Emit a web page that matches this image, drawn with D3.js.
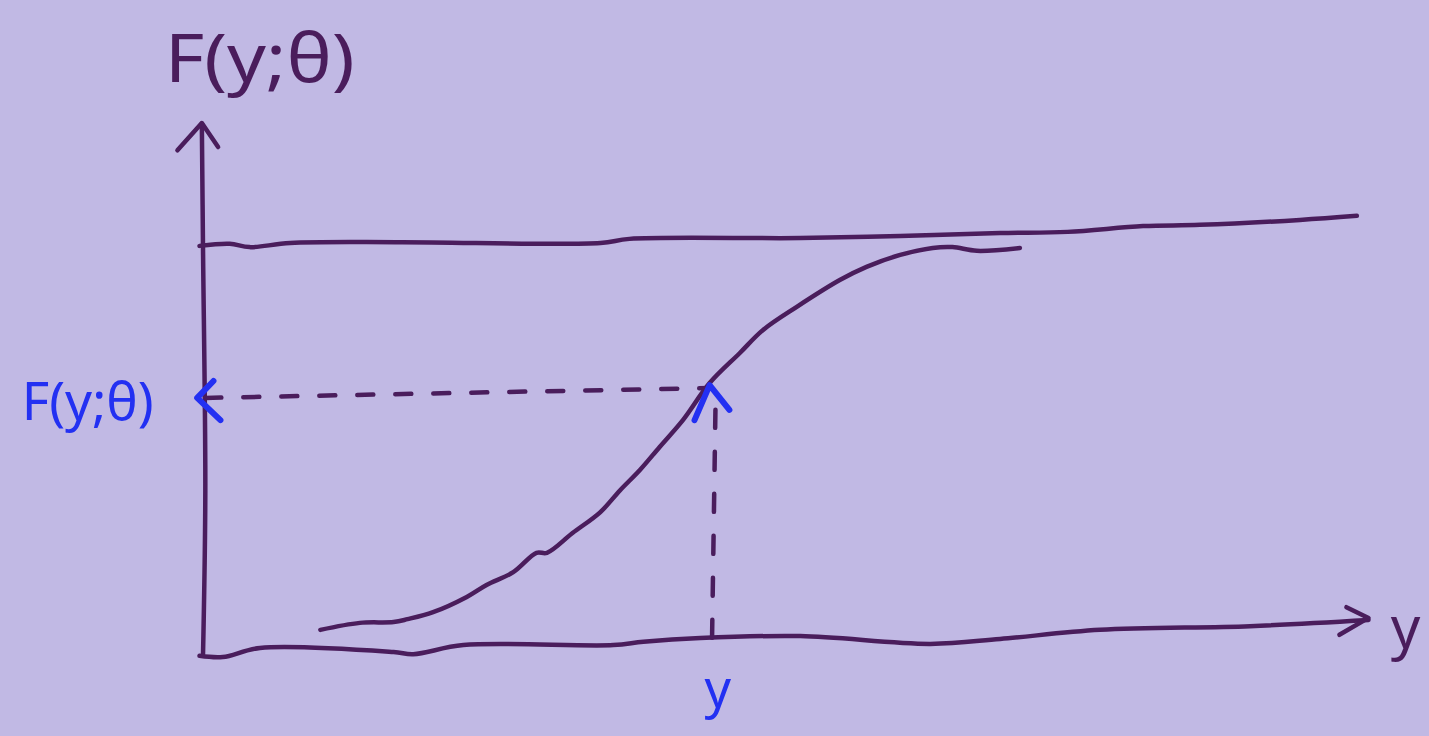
<!DOCTYPE html>
<html>
<head>
<meta charset="utf-8">
<script src="https://cdn.jsdelivr.net/npm/d3@7"></script>
<style>
  html, body { margin: 0; padding: 0; background: #c1b9e4; }
  svg { display: block; }
</style>
</head>
<body>
<svg id="chart" width="1429" height="736"></svg>
<script>
// Sketch of a cumulative distribution function F(y; θ).
// Horizontal unit: y (0–10); vertical unit: F (0–1).

// The S-shaped CDF curve: [y, F]
const cdfCurve = [
  [1.01, 0.061], [1.35, 0.078], [1.64, 0.080], [1.76, 0.087], [1.98, 0.104],
  [2.27, 0.141], [2.44, 0.170], [2.67, 0.201], [2.87, 0.248], [2.96, 0.248],
  [3.18, 0.296], [3.42, 0.347], [3.59, 0.400], [3.76, 0.449], [3.93, 0.505],
  [4.13, 0.570], [4.36, 0.660], [4.62, 0.733], [4.82, 0.789], [5.11, 0.845],
  [5.48, 0.910], [5.71, 0.942], [6.00, 0.971], [6.28, 0.988], [6.45, 0.990],
  [6.66, 0.981], [7.03, 0.988]
];

// Hand-drawn upper bound line (F = 1)
const upperLine = [
  [-0.03, 0.993], [0.23, 0.998], [0.40, 0.990], [0.75, 1.000], [1.70, 1.002],
  [3.42, 1.000], [3.67, 1.010], [5.14, 1.012], [6.00, 1.017], [6.86, 1.024],
  [7.44, 1.027], [8.09, 1.041], [8.58, 1.044], [9.44, 1.056], [9.93, 1.066]
];

// Hand-drawn horizontal axis
const xAxisLine = [
  [-0.03, -0.002], [0.17, -0.005], [0.49, 0.017], [1.64, 0.007], [1.81, 0.002],
  [2.24, 0.024], [3.53, 0.024], [3.79, 0.032], [4.28, 0.041], [5.14, 0.046],
  [6.26, 0.027], [6.86, 0.039], [7.72, 0.061], [9.01, 0.070], [10.03, 0.085]
];
const xArrowHead = [[9.84, 0.116], [10.03, 0.090], [9.78, 0.049]];

// Hand-drawn vertical axis
const yAxisLine = [[0.0, -0.002], [0.02, 0.40], [0.0, 0.99], [-0.01, 1.29]];
const yArrowHead = [[-0.22, 1.225], [-0.01, 1.291], [0.13, 1.233]];

// Reading off the curve at a chosen y
const dashH = [[0.02, 0.624], [4.35, 0.648]];
const dashV = [[4.41, 0.595], [4.38, 0.024]];
const blueLeftHead = [[0.09, 0.665], [-0.05, 0.624], [0.15, 0.570]];
const blueUpHead = [[4.23, 0.570], [4.36, 0.655], [4.53, 0.595]];

// Text labels: [text, y, F]
const titleLabel = ["F(y;θ)", -0.33, 1.39];
const valueLabel = ["F(y;θ)", -1.56, 0.570];
const yTickLabel = ["y", 4.43, -0.125];
const axisName = ["y", 10.35, 0.017];

const ink = "#4a1d5c";
const blue = "#2330f2";

const svg = d3.select("#chart");
svg.append("rect").attr("width", 1429).attr("height", 736).attr("fill", "#c1b9e4");

const x = d3.scaleLinear().domain([0, 10]).range([203, 1365]);
const y = d3.scaleLinear().domain([0, 1]).range([655, 243]);

const smooth = d3.line().x(d => x(d[0])).y(d => y(d[1])).curve(d3.curveCatmullRom.alpha(0.5));
const straight = d3.line().x(d => x(d[0])).y(d => y(d[1]));

function stroke(data, gen, color, width, dash) {
  const p = svg.append("path")
    .attr("d", gen(data))
    .attr("fill", "none")
    .attr("stroke", color)
    .attr("stroke-width", width)
    .attr("stroke-linecap", "round")
    .attr("stroke-linejoin", "round");
  if (dash) p.attr("stroke-dasharray", dash);
  return p;
}

// Axes and bound
stroke(yAxisLine, smooth, ink, 4.5);
stroke(yArrowHead, straight, ink, 4.5);
stroke(xAxisLine, smooth, ink, 4.5);
stroke(xArrowHead, straight, ink, 4.5);
stroke(upperLine, smooth, ink, 4.5);

// Dashed guides
stroke(dashH, straight, ink, 4.5, "16 22");
stroke(dashV, straight, ink, 4.5, "18 24");

// CDF curve
stroke(cdfCurve, smooth, ink, 4.5);

// Blue arrowheads
stroke(blueLeftHead, straight, blue, 6);
stroke(blueUpHead, straight, blue, 6);

// Labels
const font = "'Noto Sans', sans-serif";
svg.append("text")
  .attr("x", x(titleLabel[1])).attr("y", y(titleLabel[2]))
  .attr("font-family", font).attr("font-size", 68)
  .attr("fill", ink)
  .attr("textLength", 190).attr("lengthAdjust", "spacingAndGlyphs")
  .text(titleLabel[0]);

svg.append("text")
  .attr("x", x(valueLabel[1])).attr("y", y(valueLabel[2]))
  .attr("font-family", font).attr("font-size", 52)
  .attr("fill", blue)
  .attr("textLength", 132).attr("lengthAdjust", "spacingAndGlyphs")
  .text(valueLabel[0]);

svg.append("text")
  .attr("x", x(yTickLabel[1])).attr("y", y(yTickLabel[2]))
  .attr("text-anchor", "middle")
  .attr("font-family", font).attr("font-size", 52)
  .attr("fill", blue)
  .text(yTickLabel[0]);

svg.append("text")
  .attr("x", x(axisName[1])).attr("y", y(axisName[2]))
  .attr("text-anchor", "middle")
  .attr("font-family", font).attr("font-size", 58)
  .attr("fill", ink)
  .text(axisName[0]);
</script>
</body>
</html>
